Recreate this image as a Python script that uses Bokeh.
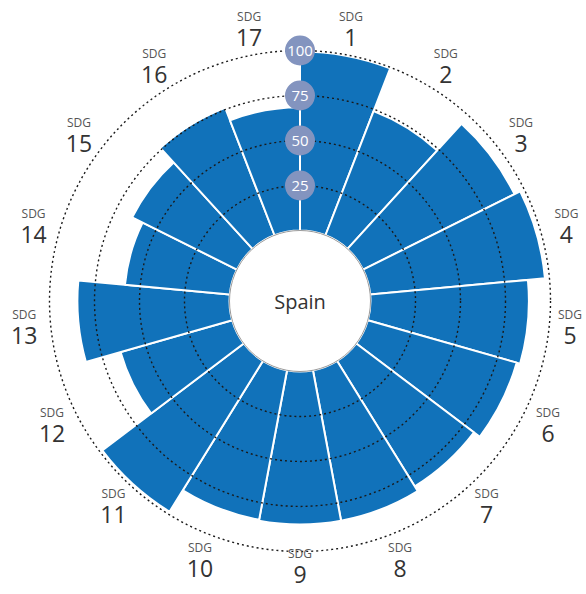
import numpy as np
from bokeh.plotting import figure
from bokeh.models import ColumnDataSource, Range1d
from bokeh.core.properties import value
from bokeh.embed import file_html
from bokeh.resources import INLINE

# ---- data ----
goals = [str(i) for i in range(1, 18)]
scores = [99.5, 74, 94, 97.5, 88, 86, 82, 85, 85, 84.5, 98.5, 64.5, 84.5, 58.5, 65, 76, 68.5]
ring_ticks = [25, 50, 75, 100]
country = "Spain"

# ---- layout ----
W, H = 586, 594
CX, CY = 299.5, 300.5          # centre of the rose, px from the figure's top-left
R0 = 70.5                      # radius of the inner hole
K = 1.8                        # px per score point
R_LABEL = 277
LABEL_FLOOR = -264
LABEL_RIGHT = 270
BAR = "#1172BA"
FONT = value("Open Sans")


def rad(v):
    return R0 + K * np.asarray(v, dtype=float)


n = len(goals)
step = 2 * np.pi / n
idx = np.arange(n)
start = np.pi / 2 - (idx + 1) * step
end = np.pi / 2 - idx * step
mid = np.pi / 2 - (idx + 0.5) * step

p = figure(width=W, height=H, output_backend="svg", toolbar_location=None,
           x_range=Range1d(-CX, W - CX), y_range=Range1d(-(H - CY), CY),
           x_axis_type=None, y_axis_type=None, min_border=0)
p.grid.visible = False
p.outline_line_color = None
p.background_fill_color = "white"

bars = ColumnDataSource(dict(goal=goals, score=scores, outer=rad(scores),
                             start=start, end=end))
p.annular_wedge(x=0, y=0, inner_radius=R0, outer_radius="outer",
                start_angle="start", end_angle="end", source=bars,
                fill_color=BAR, line_color="white", line_width=2)

# dotted rings
p.circle(x=[0] * len(ring_ticks), y=[0] * len(ring_ticks), radius=rad(ring_ticks),
         fill_color=None, line_color="#1a1a1a", line_width=1.4, line_dash="2 3")

# inner hole
p.circle(x=[0], y=[0], radius=R0, fill_color="white", line_color="#9a9a9a", line_width=1)
p.text(x=[0], y=[0], text=[country], text_align="center", text_baseline="middle",
       text_font=FONT, text_font_size="20px", text_color="#333333")

# tick badges
ty = rad(ring_ticks)
p.circle(x=[0] * len(ring_ticks), y=ty, radius=15, fill_color="#8394BF", line_color=None)
p.text(x=[0] * len(ring_ticks), y=ty, text=[str(t) for t in ring_ticks],
       text_align="center", text_baseline="middle", text_font=FONT,
       text_font_size="15px", text_color="white")

# category labels
lx = np.minimum(R_LABEL * np.cos(mid), LABEL_RIGHT)
ly = np.maximum(R_LABEL * np.sin(mid), LABEL_FLOOR)
p.text(x=lx, y=ly + 12, text=["SDG"] * n, text_align="center", text_baseline="middle",
       text_font=FONT, text_font_size="12px", text_color="#555555")
p.text(x=lx, y=ly - 9, text=goals, text_align="center", text_baseline="middle",
       text_font=FONT, text_font_size="23px", text_color="#333333")

open("out.html", "w").write(file_html(p, INLINE))
